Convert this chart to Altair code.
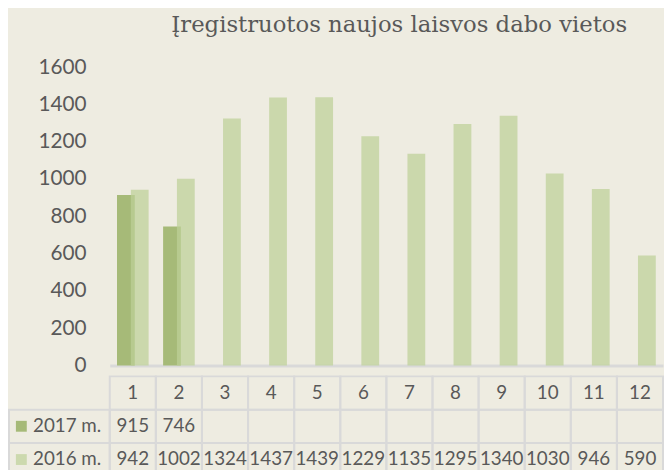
import altair as alt
import pandas as pd

# ---- data ----
months = list(range(1, 13))
series = ["2017 m.", "2016 m."]
v2017 = [915, 746]
v2016 = [942, 1002, 1324, 1437, 1439, 1229, 1135, 1295, 1340, 1030, 946, 590]
y_ticks = [0, 200, 400, 600, 800, 1000, 1200, 1400, 1600]
chart_title = "Įregistruotos naujos laisvos dabo vietos"

# ---- styles ----
BG = "#EEECE1"
C17 = "#A6BA78"
C16 = "#BDD198"      # drawn with opacity on top of 2017 bars
C16_VIS = "#CCD9AE"
TXT = "#595959"
GRID = "#D9D9D9"
FONT = "Lato"

W = 560
H = 302
TABLE_H = 101
LEFT_COL = 102

bars17 = pd.DataFrame({"month": months[: len(v2017)], "value": v2017})
bars16 = pd.DataFrame({"month": months, "value": v2016})

x_scale = alt.Scale(domain=months, paddingInner=0, paddingOuter=0)

x_enc = alt.X(
    "month:O",
    scale=x_scale,
    axis=alt.Axis(labels=False, ticks=False, title=None, domainColor=GRID, domainWidth=3),
)
y_enc = alt.Y(
    "value:Q",
    scale=alt.Scale(domain=[0, 1600], nice=False),
    axis=alt.Axis(
        values=y_ticks, format="d", title=None, grid=False, domain=False, ticks=False,
        labelPadding=24, labelFont=FONT, labelFontSize=21, labelColor=TXT,
        minExtent=LEFT_COL + 1,
    ),
)

b17 = alt.Chart(bars17).mark_bar(width=18, xOffset=-7, color=C17).encode(x=x_enc, y=y_enc)
b16 = alt.Chart(bars16).mark_bar(width=18, xOffset=7, color=C16, opacity=0.73).encode(x=x_enc, y=y_enc)

top = alt.layer(b17, b16).properties(
    width=W,
    height=H,
    title=alt.TitleParams(
        text=chart_title, font="DejaVu Serif", fontSize=23, fontWeight="normal",
        color=TXT, anchor="middle", baseline="alphabetic", offset=2, dx=13,
    ),
)

# ---- data table under the chart ----
rows = ["hdr"] + series
records = []
for i, m in enumerate(months):
    records.append({"row": "hdr", "month": m, "label": str(m)})
    records.append({"row": series[0], "month": m, "label": str(v2017[i]) if i < len(v2017) else ""})
    records.append({"row": series[1], "month": m, "label": str(v2016[i])})
table = pd.DataFrame(records)
legend_rows = pd.DataFrame({"row": series})

tx = alt.X("month:O", scale=x_scale, axis=None)
ty = alt.Y("row:N", scale=alt.Scale(domain=rows, paddingInner=0, paddingOuter=0), axis=None)

cells = alt.Chart(table).mark_rect(fill="transparent", stroke=GRID, strokeWidth=2).encode(x=tx, y=ty)
texts = alt.Chart(table).mark_text(font=FONT, fontSize=19, color=TXT).encode(x=tx, y=ty, text="label:N")

leg_cells = alt.Chart(legend_rows).mark_rect(fill="transparent", stroke=GRID, strokeWidth=2).encode(
    x=alt.value(-LEFT_COL), x2=alt.value(0), y=ty
)
leg_sq = alt.Chart(legend_rows).mark_square(size=121, opacity=1).encode(
    x=alt.value(-LEFT_COL + 12.5), y=ty,
    color=alt.Color("row:N", scale=alt.Scale(domain=series, range=[C17, C16_VIS]), legend=None),
)
leg_txt = alt.Chart(legend_rows).mark_text(align="left", font=FONT, fontSize=19, color=TXT).encode(
    x=alt.value(-LEFT_COL + 24.3), y=ty, text="row:N"
)

bottom = alt.layer(cells, texts, leg_cells, leg_sq, leg_txt).properties(width=W, height=TABLE_H)

chart = alt.vconcat(top, bottom, spacing=0).properties(
    background=BG,
    padding={"left": 0, "top": 3, "right": 0, "bottom": 0},
).configure_view(stroke=None)

chart.save("out.html", embed_options={"renderer": "svg", "actions": False})
